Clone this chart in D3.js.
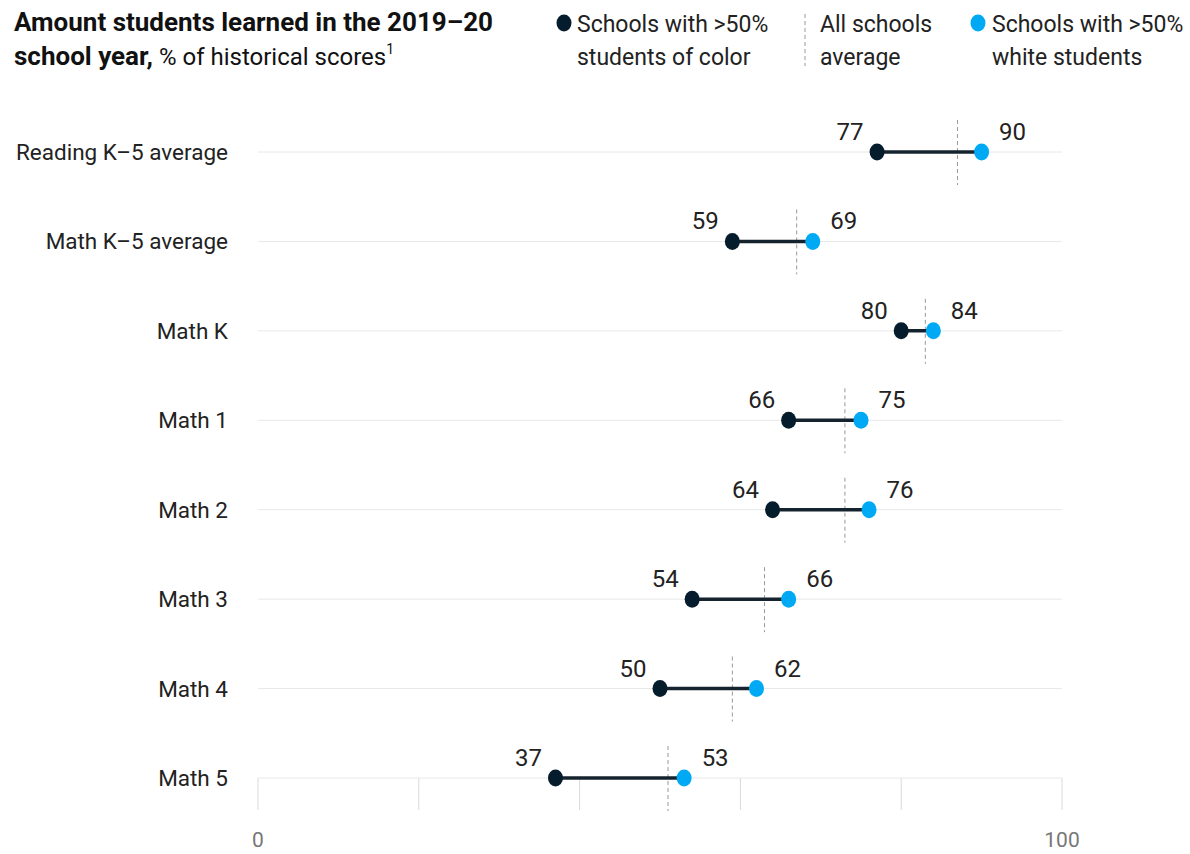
<!DOCTYPE html>
<html><head><meta charset="utf-8">
<script src="https://cdn.jsdelivr.net/npm/d3@7"></script>
<style>
body{margin:0;background:#fff;}
svg{display:block;font-family:Roboto, "Liberation Sans", sans-serif;}
</style></head>
<body><svg id="chart" width="1190" height="854"></svg>
<script>
const categories = ["Reading K–5 average","Math K–5 average","Math K","Math 1","Math 2","Math 3","Math 4","Math 5"];
const colorSchools = [77,59,80,66,64,54,50,37];
const whiteSchools = [90,69,84,75,76,66,62,53];
const allAverage = [87,67,83,73,73,63,59,51];
const xTicks = [0,20,40,60,80,100];
const xTickLabels = ["0","100"];

const DARK = "#051c2c", BLUE = "#00a9f4";
const svg = d3.select("#chart");
const x = d3.scaleLinear().domain([0,100]).range([258,1062]);
const y = d3.scalePoint().domain(categories).range([152,778]);

// title
const t = svg.append("text").attr("x",14).attr("y",31).attr("font-size",26).attr("fill","#111");
t.append("tspan").attr("font-weight",700).text("Amount students learned in the 2019–20");
const t2 = svg.append("text").attr("x",14).attr("y",65).attr("fill","#111");
t2.append("tspan").attr("font-weight",700).attr("font-size",26).text("school year,");
t2.append("tspan").attr("font-weight",400).attr("font-size",24).text(" % of historical scores");
t2.append("tspan").attr("font-weight",400).attr("font-size",14).attr("dy",-11).text("1");

// legend
const lg = svg.append("g").attr("font-size",23).attr("fill","#222");
lg.append("ellipse").attr("cx",564).attr("cy",23).attr("rx",7.5).attr("ry",8.5).attr("fill",DARK);
lg.append("text").attr("x",577).attr("y",32).text("Schools with >50%");
lg.append("text").attr("x",577).attr("y",65).text("students of color");
lg.append("line").attr("x1",805).attr("x2",805).attr("y1",14).attr("y2",66).attr("stroke","#999").attr("stroke-width",1).attr("stroke-dasharray","4,3");
lg.append("text").attr("x",820).attr("y",32).text("All schools");
lg.append("text").attr("x",820).attr("y",65).text("average");
lg.append("ellipse").attr("cx",978).attr("cy",23).attr("rx",7.5).attr("ry",8.5).attr("fill",BLUE);
lg.append("text").attr("x",992).attr("y",32).text("Schools with >50%");
lg.append("text").attr("x",992).attr("y",65).text("white students");

// vertical grid ticks at bottom
svg.append("g").selectAll("line").data(xTicks).join("line")
  .attr("x1",d=>x(d)).attr("x2",d=>x(d)).attr("y1",y(categories[categories.length-1])).attr("y2",810)
  .attr("stroke","#d9d9d9").attr("stroke-width",1);

// horizontal row lines
svg.append("g").selectAll("line").data(categories).join("line")
  .attr("x1",x(0)).attr("x2",x(100)).attr("y1",d=>y(d)).attr("y2",d=>y(d))
  .attr("stroke","#e8e8e8").attr("stroke-width",1);

// axis labels
svg.append("g").selectAll("text").data(xTickLabels).join("text")
  .attr("x",d=>x(+d)).attr("y",847).attr("text-anchor","middle")
  .attr("font-size",21).attr("fill","#777").text(d=>d);

// category labels
svg.append("g").selectAll("text").data(categories).join("text")
  .attr("x",228).attr("y",d=>y(d)+8).attr("text-anchor","end")
  .attr("font-size",22.5).attr("fill","#222").text(d=>d);

const rows = categories.map((c,i)=>({c, a:colorSchools[i], b:whiteSchools[i], m:allAverage[i]}));
const g = svg.append("g");
// average dashed lines
g.selectAll("line.avg").data(rows).join("line").attr("class","avg")
  .attr("x1",d=>x(d.m)).attr("x2",d=>x(d.m)).attr("y1",d=>y(d.c)-32).attr("y2",d=>y(d.c)+33)
  .attr("stroke","#999").attr("stroke-width",1).attr("stroke-dasharray","4,3");
// connectors
g.selectAll("line.con").data(rows).join("line").attr("class","con")
  .attr("x1",d=>x(d.a)).attr("x2",d=>x(d.b)).attr("y1",d=>y(d.c)).attr("y2",d=>y(d.c))
  .attr("stroke","#15232e").attr("stroke-width",3.5);
g.selectAll("ellipse.a").data(rows).join("ellipse").attr("class","a")
  .attr("cx",d=>x(d.a)).attr("cy",d=>y(d.c)).attr("rx",7.5).attr("ry",8.5).attr("fill",DARK);
g.selectAll("ellipse.b").data(rows).join("ellipse").attr("class","b")
  .attr("cx",d=>x(d.b)).attr("cy",d=>y(d.c)).attr("rx",7.5).attr("ry",8.5).attr("fill",BLUE);
g.selectAll("text.a").data(rows).join("text").attr("class","a")
  .attr("x",d=>x(d.a)-27).attr("y",d=>y(d.c)-12).attr("text-anchor","middle")
  .attr("font-size",24).attr("fill","#222").text(d=>d.a);
g.selectAll("text.b").data(rows).join("text").attr("class","b")
  .attr("x",d=>x(d.b)+31).attr("y",d=>y(d.c)-12).attr("text-anchor","middle")
  .attr("font-size",24).attr("fill","#222").text(d=>d.b);
</script></body></html>
